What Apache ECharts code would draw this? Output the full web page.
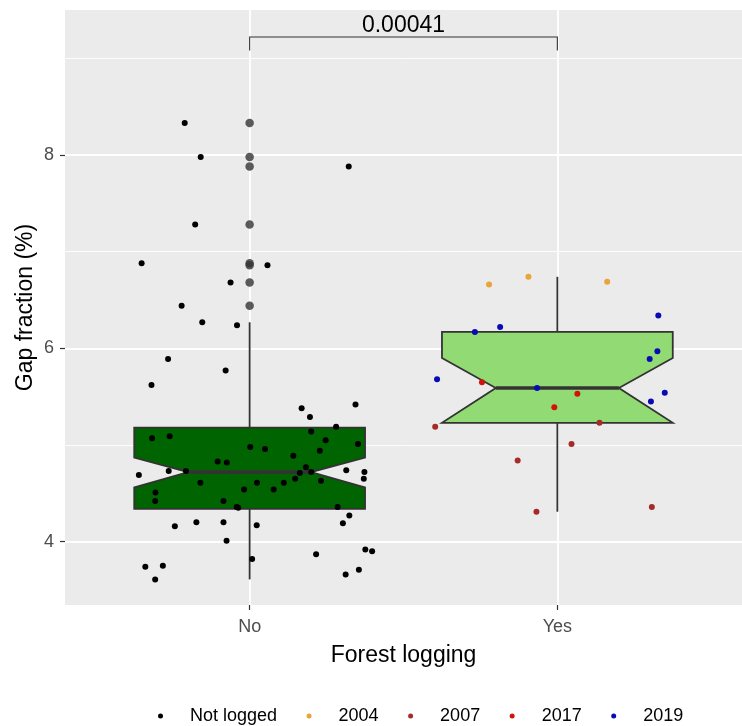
<!DOCTYPE html>
<html><head><meta charset="utf-8">
<script src="https://cdn.jsdelivr.net/npm/echarts@6/dist/echarts.min.js"></script>
<style>html,body{margin:0;padding:0;background:#fff}#c{width:742px;height:726px}</style>
</head><body><div id="c"></div>
<script>
const categories = ['No', 'Yes'];
const yTicks = [4, 6, 8];
const yMinorTicks = [5, 7, 9];
// box stats: [whiskerLow, q1, notchLow, median, notchHigh, q3, whiskerHigh]
const boxNo  = [3.61, 4.34, 4.56, 4.72, 4.87, 5.18, 6.27];
const boxYes = [4.31, 5.23, 5.23, 5.59, 5.90, 6.17, 6.74];
const boxFills = ['#006400', '#92DB74'];

// jittered points (offset from category centre, value)
const notLoggedOffset = [-0.211,-0.159,0.322,-0.177,-0.351,0.058,-0.062,-0.221,-0.154,-0.041,
 -0.265,-0.078,-0.319,0.344,0.169,0.196,0.281,-0.317,-0.260,0.200,
 0.247,0.352,0.002,0.050,0.228,0.142,-0.104,-0.074,-0.360,-0.263,
 -0.207,0.183,0.163,0.200,0.314,0.373,0.371,-0.160,0.024,0.111,
 0.148,0.232,-0.018,0.078,-0.306,-0.307,-0.085,-0.042,-0.037,0.286,
 0.324,-0.243,-0.173,-0.085,0.023,0.303,-0.075,0.376,0.398,0.008,
 0.216,-0.339,-0.282,-0.307,0.312,0.355];
const notLoggedValue = [8.33,7.98,7.88,7.28,6.88,6.86,6.68,6.44,6.27,6.24,
 5.89,5.77,5.62,5.42,5.38,5.29,5.19,5.07,5.09,5.14,
 5.05,5.01,4.98,4.96,4.94,4.89,4.83,4.82,4.69,4.73,
 4.73,4.77,4.71,4.72,4.74,4.72,4.65,4.61,4.61,4.61,
 4.65,4.63,4.54,4.54,4.51,4.42,4.42,4.36,4.35,4.36,
 4.27,4.16,4.20,4.20,4.17,4.19,4.01,3.92,3.90,3.82,
 3.87,3.74,3.75,3.61,3.66,3.71];
const y2004Offset = [-0.222,-0.094,0.162];
const y2004Value  = [6.66,6.74,6.69];
const y2007Offset = [-0.397,0.137,0.046,-0.129,-0.068,0.307];
const y2007Value  = [5.19,5.23,5.01,4.84,4.31,4.36];
const y2017Offset = [-0.245,0.065,-0.010];
const y2017Value  = [5.65,5.53,5.39];
const y2019Offset = [0.328,-0.268,-0.186,-0.391,0.325,0.300,-0.066,0.349,0.304];
const y2019Value  = [6.34,6.17,6.22,5.68,5.97,5.89,5.59,5.54,5.45];

const pValueLabel = '0.00041';
const bracketTop = 9.22;
const bracketTip = 9.08;

const FONT = '"Liberation Sans", Arial, sans-serif';
const pos = name => categories.indexOf(name) + 1;
const pts = (cat, off, val) => off.map((o, i) => [pos(cat) + o, val[i]]);

const boxes = [[pos('No')].concat(boxNo), [pos('Yes')].concat(boxYes)];
const outliers = [];
[['No', boxNo, notLoggedValue]].forEach(([cat, b, vals]) => {
  vals.forEach(v => { if (v > b[6] || v < b[0]) outliers.push([pos(cat), v]); });
});

function renderBox(params, api) {
  const x = api.value(0);
  const wl = api.value(1), q1 = api.value(2), nl = api.value(3), med = api.value(4),
        nh = api.value(5), q3 = api.value(6), wh = api.value(7);
  const hw = 0.375, nw = 0.2;
  const c = (xx, yy) => api.coord([xx, yy]);
  const poly = [c(x-hw,q3), c(x-hw,nh), c(x-nw,med), c(x-hw,nl), c(x-hw,q1),
                c(x+hw,q1), c(x+hw,nl), c(x+nw,med), c(x+hw,nh), c(x+hw,q3)];
  const cx = c(x, q3)[0];
  const stroke = '#333333';
  return { type: 'group', children: [
    { type: 'line', shape: { x1: cx, y1: c(x,q3)[1], x2: cx, y2: c(x,wh)[1] }, style: { stroke, lineWidth: 1.8 } },
    { type: 'line', shape: { x1: cx, y1: c(x,q1)[1], x2: cx, y2: c(x,wl)[1] }, style: { stroke, lineWidth: 1.8 } },
    { type: 'polygon', shape: { points: poly }, style: { fill: boxFills[params.dataIndex], stroke, lineWidth: 1.8 } },
    { type: 'line', shape: { x1: c(x-nw,med)[0], y1: c(x,med)[1], x2: c(x+nw,med)[0], y2: c(x,med)[1] }, style: { stroke, lineWidth: 3.6 } }
  ]};
}

function renderBracket(params, api) {
  const a = api.coord([api.value(0), api.value(2)]);
  const b = api.coord([api.value(1), api.value(2)]);
  const tipY = api.coord([api.value(0), api.value(3)])[1];
  return { type: 'group', children: [
    { type: 'polyline', shape: { points: [[a[0], tipY], a, b, [b[0], tipY]] }, style: { stroke: '#333', lineWidth: 1.1, fill: null } },
    { type: 'text', style: { text: pValueLabel, x: (a[0]+b[0])/2, y: a[1], align: 'center', verticalAlign: 'bottom',
      fontSize: 23, fontFamily: FONT, fill: '#000' } }
  ]};
}

const gridLines = [].concat(
  yMinorTicks.map(v => ({ yAxis: v, lineStyle: { width: 0.9 } })),
  yTicks.map(v => ({ yAxis: v, lineStyle: { width: 1.8 } })),
  categories.map(cat => ({ xAxis: pos(cat), lineStyle: { width: 1.8 } }))
);

const scatterBase = (name, data, color) => ({
  name, type: 'scatter', data, symbol: 'circle', symbolSize: 6, z: 4,
  itemStyle: { color, opacity: 1 }, silent: true
});

const chart = echarts.init(document.getElementById('c'), null, { renderer: 'canvas' });
chart.setOption({
  animation: false,
  backgroundColor: '#ffffff',
  textStyle: { fontFamily: FONT },
  grid: { left: 65, top: 10, right: -8, bottom: 121, show: true, backgroundColor: '#EBEBEB', borderWidth: 0 },
  xAxis: {
    type: 'value', min: 0.4, max: 2.6,
    axisLine: { show: false },
    splitLine: { show: false },
    axisTick: { show: true, length: 5, customValues: categories.map(pos), lineStyle: { color: '#333', width: 1.2 } },
    axisLabel: { customValues: categories.map(pos), formatter: v => categories[Math.round(v) - 1] || '',
      color: '#4D4D4D', fontSize: 18, margin: 13, fontFamily: FONT },
    name: 'Forest logging', nameLocation: 'middle', nameGap: 39, nameMoveOverlap: false,
    nameTextStyle: { fontSize: 23, color: '#000', fontFamily: FONT }
  },
  yAxis: {
    type: 'value', min: 3.345, max: 9.5,
    axisLine: { show: false },
    splitLine: { show: false },
    axisTick: { show: true, length: 5, customValues: yTicks, lineStyle: { color: '#333', width: 1.2 } },
    axisLabel: { customValues: yTicks, color: '#4D4D4D', fontSize: 18, margin: 11, fontFamily: FONT },
    name: 'Gap fraction (%)', nameLocation: 'middle', nameGap: 28, nameMoveOverlap: false,
    nameTextStyle: { fontSize: 23, color: '#000', fontFamily: FONT }
  },
  legend: {
    data: ['Not logged', '2004', '2007', '2017', '2019'],
    left: 158, top: 707, padding: 0, orient: 'horizontal',
    itemWidth: 49, itemHeight: 5, itemGap: 29.5, icon: 'circle', selectedMode: false,
    textStyle: { fontSize: 18, color: '#000', fontFamily: FONT }
  },
  series: [
    { name: 'grid', type: 'line', data: [], z: 1, silent: true,
      markLine: { silent: true, z: 1, symbol: 'none', label: { show: false }, animation: false,
        lineStyle: { color: '#ffffff', type: 'solid', width: 1.8 }, emphasis: { disabled: true }, data: gridLines } },
    { name: 'box', type: 'custom', renderItem: renderBox, data: boxes, z: 2, silent: true,
      encode: { x: 0, y: [1, 7] } },
    { name: 'outliers', type: 'scatter', data: outliers, symbolSize: 8.5, z: 3, silent: true,
      itemStyle: { color: '#333333' } },
    scatterBase('Not logged', pts('No', notLoggedOffset, notLoggedValue), '#000000'),
    scatterBase('2004', pts('Yes', y2004Offset, y2004Value), '#E9A43C'),
    scatterBase('2007', pts('Yes', y2007Offset, y2007Value), '#A52A2A'),
    scatterBase('2017', pts('Yes', y2017Offset, y2017Value), '#D0140C'),
    scatterBase('2019', pts('Yes', y2019Offset, y2019Value), '#0A0AB4'),
    { name: 'bracket', type: 'custom', renderItem: renderBracket, z: 5, silent: true,
      data: [[pos('No'), pos('Yes'), bracketTop, bracketTip]], encode: { x: [0, 1], y: [2, 3] } }
  ]
});
</script>
</body></html>
